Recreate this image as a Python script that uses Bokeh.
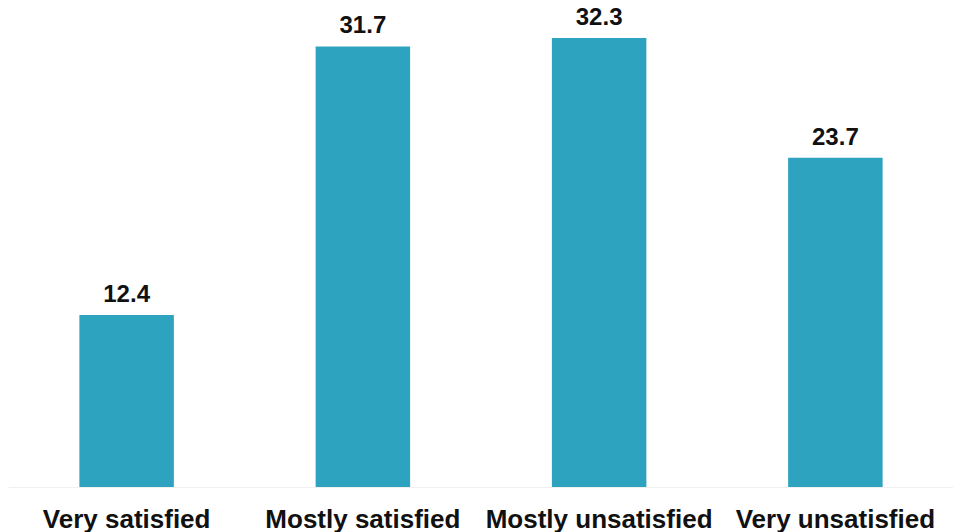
from bokeh.plotting import figure
from bokeh.models import ColumnDataSource, LabelSet, Span
from bokeh.core.properties import value
from bokeh.embed import file_html
from bokeh.resources import INLINE

# Satisfaction survey shares (%)
categories = ["Very satisfied", "Mostly satisfied", "Mostly unsatisfied", "Very unsatisfied"]
shares = [12.4, 31.7, 32.3, 23.7]
share_labels = [f"{v:.1f}" for v in shares]

source = ColumnDataSource(data=dict(
    cat=categories, share=shares, label=share_labels, base=[0] * len(categories),
))

# the frame covers the whole canvas; the bottom 45 px hold the category names
HEIGHT = 532
LABEL_BAND = 45
Y_TOP = 35
y_bottom = -Y_TOP * LABEL_BAND / (HEIGHT - LABEL_BAND)

p = figure(
    x_range=categories,
    y_range=(y_bottom, Y_TOP),
    width=953,
    height=HEIGHT,
    output_backend="svg",
    toolbar_location=None,
    min_border_left=8,
    min_border_right=0,
    min_border_top=0,
    min_border_bottom=0,
)

p.vbar(x="cat", bottom=0, top="share", width=0.4, source=source,
       color="#2ea3bf", line_color=None)

# faint baseline under the bars
p.add_layout(Span(location=0, dimension="width", line_color="#f0f0f0", line_width=1))

# value labels above each bar
value_labels = LabelSet(
    x="cat", y="share", text="label", source=source,
    text_align="center", text_baseline="alphabetic", y_offset=13,
    text_font=value("Liberation Sans"), text_font_style="bold",
    text_font_size="24px", text_color="#111111",
)
p.add_layout(value_labels)

# category names under the baseline
category_labels = LabelSet(
    x="cat", y="base", text="cat", source=source,
    text_align="center", text_baseline="alphabetic", y_offset=-40,
    text_font=value("Liberation Sans"), text_font_style="bold",
    text_font_size="26px", text_color="#111111",
)
p.add_layout(category_labels)

p.x_range.range_padding = 0
p.xaxis.visible = False
p.yaxis.visible = False
p.xgrid.grid_line_color = None
p.ygrid.grid_line_color = None
p.outline_line_color = None

open("out.html", "w").write(file_html(p, INLINE))
